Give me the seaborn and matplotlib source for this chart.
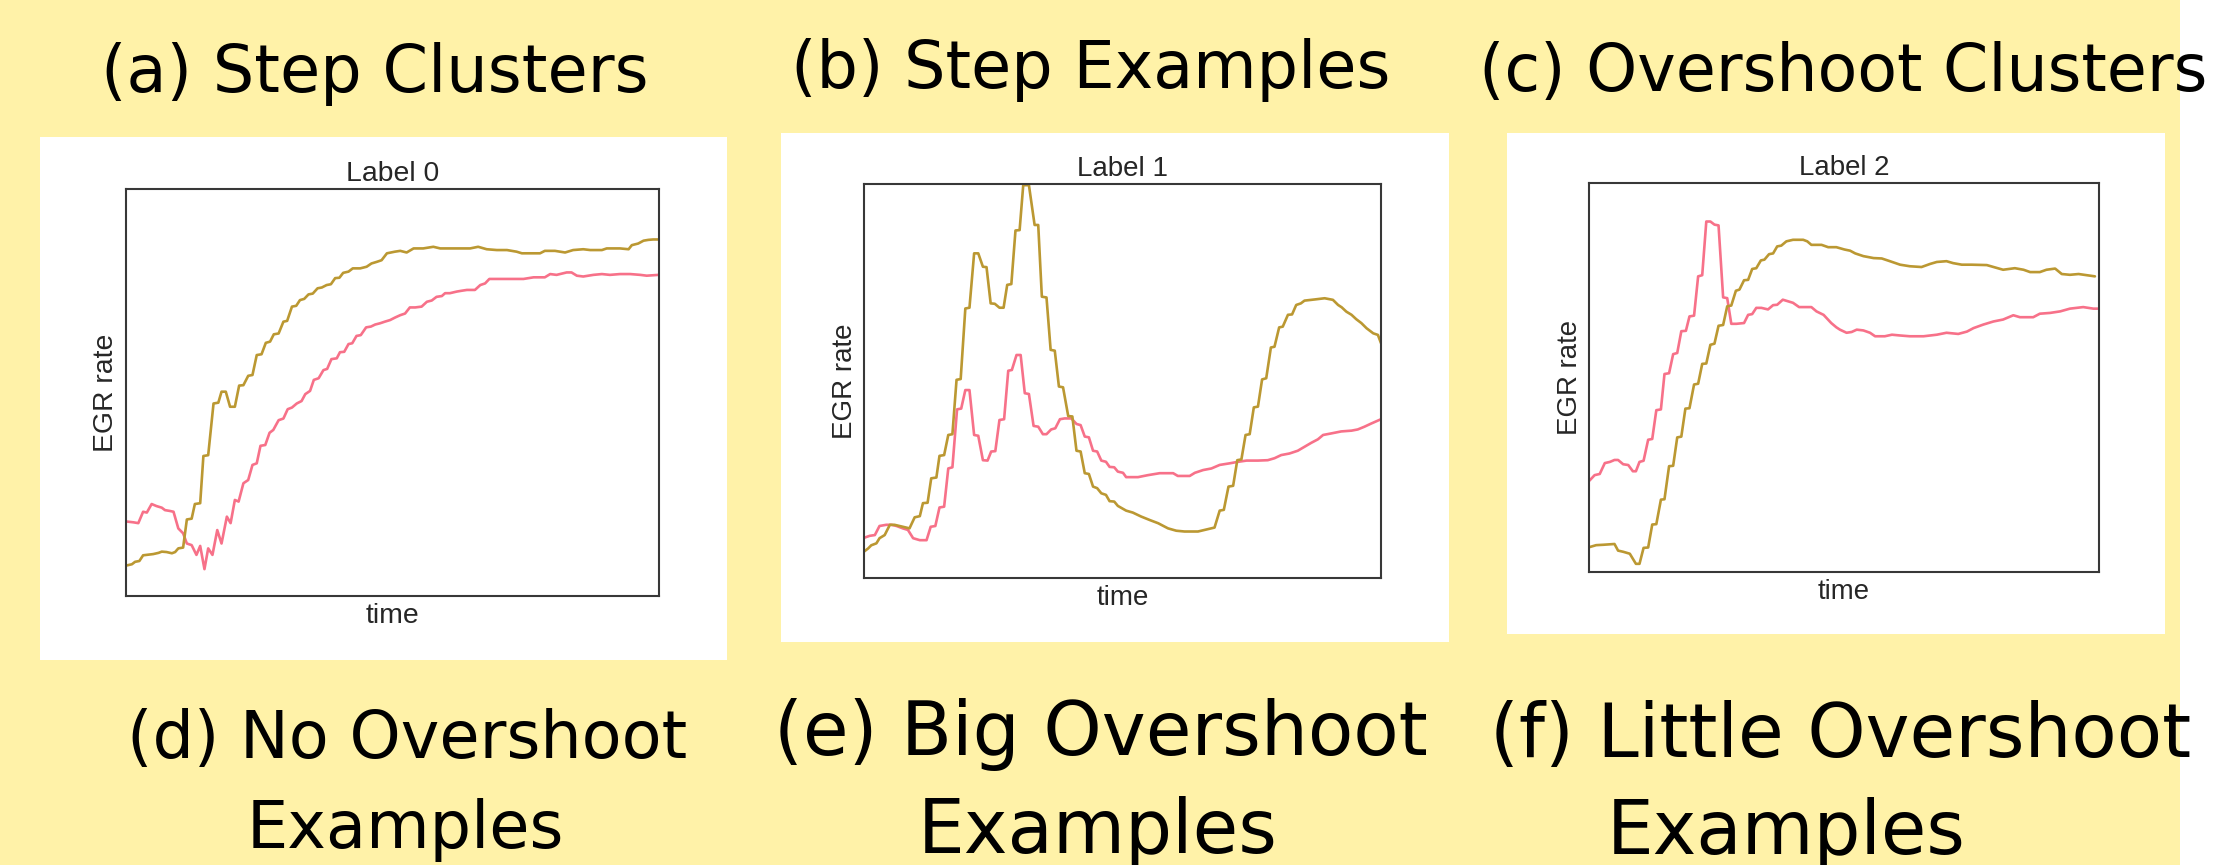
import matplotlib
matplotlib.use("Agg")
import matplotlib.pyplot as plt
import numpy as np
import pandas as pd
import seaborn as sns
from matplotlib.patches import Rectangle

# ---------------- data (time %, EGR rate % of axis range) ----------------
PANEL_TITLES = ["Label 0", "Label 1", "Label 2"]
SERIES_NAMES = ["cluster example 1", "cluster example 2"]

A_PINK = [(0.2,18.3),(1.5,18.1),(2.4,17.9),(3.3,20.7),(4.0,20.5),(4.9,22.6),(5.8,22.1),(6.8,21.7),(7.4,21.1),(8.3,20.9),
          (9.0,20.7),(9.9,16.6),(10.8,15.4),(11.5,12.9),(12.4,12.5),(13.3,10.1),(14.0,12.3),(14.8,6.6),(15.5,11.7),(16.3,10.1),
          (17.2,16.2),(18.0,12.9),(19.0,19.5),(19.7,17.9),(20.5,23.6),(21.2,23.2),(22.1,27.7),(23.0,28.5),(23.8,32.2),(24.6,32.6),
          (25.3,36.9),(26.2,37.1),(27.0,40.1),(27.7,40.8),(28.7,43.2),(29.6,43.6),(30.4,45.9),(31.2,46.3),(32.1,47.3),(33.0,47.9),
          (33.7,49.6),(34.6,50.4),(35.3,53.1),(36.2,53.5),(37.1,55.5),(37.8,55.8),(38.6,58.2),(39.6,58.4),(40.2,59.9),(41.0,60.0),
          (41.8,61.9),(42.5,62.1),(43.3,63.9),(44.1,64.1),(45.1,66.0),(46.0,66.2),(46.8,66.7),(47.7,67.0),(48.6,67.4),(49.6,67.8),
          (50.5,68.4),(51.5,69.0),(52.4,69.4),(53.3,70.9),(54.3,70.9),(55.5,71.1),(56.5,72.3),(57.4,72.6),(58.3,73.5),(59.3,73.7),
          (59.9,74.4),(60.8,74.4),(62.1,74.8),(63.0,75.0),(64.0,75.2),(65.5,75.2),(66.5,76.4),(67.4,76.8),(68.2,77.9),(74.6,77.9),
          (76.5,78.3),(78.6,78.3),(79.6,79.1),(80.8,78.9),(82.7,79.5),(83.6,79.5),(84.6,78.7),(85.8,78.5),(87.7,78.9),(89.3,79.1),
          (90.8,78.9),(92.7,79.1),(94.6,79.1),(96.5,78.9),(97.7,78.7),(99.9,78.9)]
A_OLIVE = [(0.2,7.5),(1.2,7.8),(1.8,8.4),(2.6,8.6),(3.3,10.0),(5.2,10.3),(6.2,10.6),(6.8,10.9),(7.7,10.8),(8.7,10.5),
           (9.3,10.8),(9.9,11.7),(10.8,11.9),(11.5,18.8),(12.4,19.0),(13.0,22.6),(14.0,22.8),(14.6,34.4),(15.5,34.6),(16.5,47.3),
           (17.4,47.5),(18.0,50.2),(18.8,50.2),(19.6,46.5),(20.5,46.5),(21.3,51.7),(22.1,51.8),(23.0,54.1),(23.8,54.3),(24.6,59.2),
           (25.5,59.4),(26.3,62.2),(27.1,62.5),(27.8,64.3),(28.7,64.5),(29.6,67.4),(30.3,67.6),(31.2,71.1),(32.0,71.3),(32.7,72.7),
           (33.5,73.0),(34.3,74.1),(35.1,74.3),(36.0,75.6),(36.8,75.8),(37.7,76.4),(38.5,76.6),(39.3,78.1),(40.1,78.2),(40.8,79.4),
           (41.8,79.7),(42.6,80.5),(44.0,80.5),(45.2,80.9),(46.1,81.7),(47.1,82.1),(48.0,82.5),(49.0,84.2),(50.5,84.6),(51.5,84.8),
           (52.7,84.4),(54.0,85.4),(55.8,85.4),(57.7,85.8),(59.0,85.4),(62.1,85.4),(64.6,85.4),(66.1,85.8),(67.7,85.2),(69.6,85.0),
           (71.5,85.0),(73.3,84.6),(74.3,84.2),(77.7,84.2),(78.6,84.8),(80.5,84.8),(82.4,84.4),(83.9,85.0),(85.8,85.2),(87.1,85.0),
           (89.3,85.0),(90.2,85.4),(92.7,85.4),(94.3,85.2),(94.9,86.2),(96.1,86.6),(97.1,87.3),(98.0,87.5),(98.9,87.6),(99.9,87.6)]

B_PINK = [(0.0,10.2),(1.1,10.7),(2.1,10.9),(3.0,13.2),(4.3,13.5),(5.3,13.5),(6.3,13.2),(7.5,12.6),(8.5,12.2),(9.5,10.1),
          (10.8,9.6),(12.1,9.6),(12.9,13.0),(13.8,13.2),(14.6,17.9),(15.5,18.1),(16.3,27.8),(17.1,28.1),(18.0,42.8),(18.8,43.0),
          (19.6,47.7),(20.4,47.7),(21.3,36.3),(22.1,36.1),(23.0,29.9),(23.9,29.8),(24.6,32.1),(25.4,32.2),(26.2,40.1),(27.1,40.3),
          (27.9,52.6),(28.6,52.8),(29.5,56.6),(30.3,56.6),(31.1,46.9),(31.9,46.7),(32.8,38.6),(33.7,38.4),(34.6,36.5),(35.3,36.5),
          (36.2,37.7),(37.0,38.0),(37.9,40.3),(38.8,40.5),(40.1,40.5),(41.1,39.1),(41.9,38.8),(42.7,35.9),(43.5,35.7),(44.3,32.3),
          (45.1,32.1),(45.9,29.8),(46.8,29.5),(47.5,28.2),(48.4,28.1),(49.1,27.0),(50.1,26.7),(50.7,25.6),(53.0,25.6),(54.9,26.1),
          (57.2,26.6),(59.8,26.6),(60.7,25.9),(63.0,25.9),(64.0,26.7),(65.6,27.4),(67.2,27.8),(68.8,28.7),(70.7,29.1),(72.4,29.5),
          (74.0,29.8),(76.2,29.8),(78.1,29.9),(79.4,30.4),(80.7,31.2),(82.3,31.6),(83.9,32.3),(85.2,33.3),(86.5,34.3),(87.8,35.2),
          (88.8,36.3),(90.4,36.7),(92.3,37.2),(94.3,37.4),(95.5,37.7),(96.8,38.4),(98.1,39.2),(100.0,40.3)]
B_OLIVE = [(0.0,6.7),(0.8,7.5),(1.4,8.3),(2.4,8.8),(3.0,10.1),(4.0,10.9),(5.0,13.5),(5.9,13.5),(7.2,13.1),(8.8,12.6),
           (9.8,15.4),(10.8,15.7),(11.4,19.0),(12.3,19.1),(13.0,25.3),(14.0,25.5),(14.6,31.0),(15.5,31.2),(16.3,36.3),(17.1,36.5),
           (17.9,50.3),(18.7,50.5),(19.6,68.4),(20.4,68.6),(21.3,82.4),(22.1,82.4),(23.0,79.0),(23.7,78.9),(24.5,69.7),(25.3,69.6),
           (26.2,68.6),(27.0,68.6),(27.7,74.4),(28.5,74.6),(29.3,88.2),(30.1,88.3),(30.8,99.7),(31.9,99.7),(33.0,89.6),(33.7,89.6),
           (34.4,71.4),(35.3,71.2),(36.1,57.9),(36.9,57.7),(37.7,48.6),(38.5,48.4),(39.5,41.1),(40.3,41.0),(41.1,32.3),(41.9,32.1),
           (42.7,26.6),(43.5,26.4),(44.3,23.2),(45.1,22.8),(45.9,21.5),(46.8,21.1),(47.5,19.5),(48.4,19.4),(49.1,18.3),(50.7,17.1),
           (52.0,16.6),(53.6,15.6),(55.3,14.7),(56.9,13.9),(58.8,12.6),(60.4,12.0),(62.0,11.8),(64.6,11.8),(66.2,12.3),(67.8,12.8),
           (68.8,17.1),(69.6,17.3),(70.5,23.2),(71.4,23.4),(72.2,29.9),(73.0,30.1),(73.8,36.3),(74.6,36.5),(75.4,43.3),(76.2,43.5),
           (77.0,50.4),(77.8,50.7),(78.7,58.5),(79.4,58.7),(80.3,63.6),(81.0,63.8),(82.0,66.8),(82.8,66.9),(83.6,69.3),(84.5,69.7),
           (85.2,70.4),(87.2,70.7),(89.1,71.0),(90.7,70.6),(91.7,69.3),(92.4,68.7),(93.3,67.6),(94.3,66.8),(95.2,65.7),(96.2,64.7),
           (97.2,63.4),(98.5,62.1),(99.4,61.7),(100.0,59.6)]

C_PINK = [(0.1,23.5),(1.1,24.9),(2.1,25.2),(3.1,28.0),(4.1,28.3),(5.0,28.8),(5.7,28.8),(6.7,27.7),(7.7,27.5),(8.6,25.9),
          (9.2,25.9),(9.9,28.3),(10.7,28.6),(11.6,34.0),(12.4,34.2),(13.2,41.6),(14.1,41.8),(14.8,50.9),(15.7,51.1),(16.5,56.0),
          (17.3,56.3),(18.1,61.9),(19.0,62.0),(19.7,65.7),(20.6,65.9),(21.4,76.0),(22.2,76.3),(23.0,90.1),(23.8,90.1),(24.6,89.3),
          (25.4,89.1),(26.3,70.6),(27.1,70.4),(27.9,63.8),(28.9,63.8),(30.4,64.0),(31.2,66.1),(32.0,66.3),(32.8,67.9),(33.8,67.9),
          (35.1,67.5),(36.1,68.6),(36.9,68.7),(38.0,70.0),(39.0,69.6),(40.0,69.2),(41.2,68.1),(43.6,68.1),(44.6,67.0),(46.0,66.1),
          (47.5,64.0),(48.5,62.9),(49.2,62.3),(50.5,61.5),(51.5,61.7),(52.5,62.3),(53.8,62.1),(55.1,61.5),(56.1,60.6),(58.0,60.6),
          (59.4,61.0),(61.0,60.8),(62.9,60.6),(65.6,60.6),(68.2,61.0),(70.1,61.5),(72.4,61.2),(74.1,61.8),(75.4,62.7),(77.3,63.6),
          (79.3,64.4),(81.2,64.9),(83.2,66.0),(84.5,65.5),(87.1,65.5),(88.4,66.4),(90.4,66.6),(92.4,67.0),(94.3,67.7),(96.9,68.1),
          (98.9,67.7),(99.9,67.7)]
C_OLIVE = [(0.1,6.4),(1.4,6.9),(2.8,7.0),(5.0,7.2),(5.7,5.5),(6.7,5.2),(8.0,4.7),(9.2,2.1),(9.9,2.1),(10.7,6.2),
           (11.6,6.3),(12.4,12.2),(13.2,12.3),(14.1,18.6),(14.8,18.7),(15.7,27.2),(16.5,27.3),(17.3,34.6),(18.1,34.8),(18.9,42.0),
           (19.7,42.1),(20.6,48.2),(21.4,48.4),(22.2,53.5),(23.0,53.6),(23.8,58.4),(24.6,58.7),(25.4,63.3),(26.3,63.5),(27.1,68.3),
           (27.9,68.5),(28.8,72.3),(29.5,72.6),(30.4,75.0),(31.2,75.1),(32.0,77.9),(32.8,78.1),(33.7,80.1),(34.4,80.3),(35.3,81.7),
           (36.1,81.9),(36.9,83.7),(37.7,83.9),(38.7,85.0),(40.0,85.4),(42.0,85.4),(42.8,85.0),(43.6,84.1),(45.6,84.1),(46.9,83.5),
           (48.5,83.5),(50.1,82.9),(51.2,82.6),(52.2,81.9),(53.8,81.2),(55.8,80.7),(57.4,80.6),(59.0,79.9),(61.0,79.0),(62.9,78.6),
           (65.2,78.4),(66.9,79.2),(68.2,79.7),(70.1,79.9),(71.4,79.4),(73.1,79.0),(75.0,79.0),(78.0,78.9),(79.6,78.3),(81.2,77.7),
           (83.5,78.1),(85.2,77.7),(86.5,77.1),(88.4,77.1),(89.7,77.7),(91.4,78.0),(92.7,76.6),(94.3,76.4),(96.0,76.6),(97.6,76.3),
           (99.2,76.0)]

PANEL_SERIES = [(A_PINK, A_OLIVE), (B_PINK, B_OLIVE), (C_PINK, C_OLIVE)]

TOP_LABELS = ["(a) Step Clusters", "(b) Step Examples", "(c) Overshoot Clusters"]
BOTTOM_LABELS = [("(d) No Overshoot", "Examples"),
                 ("(e) Big Overshoot", "Examples"),
                 ("(f) Little Overshoot", "Examples")]

# ---------------- layout (pixels of the 2214x865 canvas) ----------------
W, H = 2214, 865
YELLOW = "#fff2a8"
PANEL_BOXES = [(39.5, 137, 727, 660), (781, 133, 1449, 642), (1507, 133, 2165, 634)]
AXES_BOXES = [(125.5, 189, 659, 596), (864, 184, 1381, 578), (1589, 183, 2099, 572)]
INNER_FS = [20.4, 20.0, 19.9]

# (left x, baseline y, target width)
TOP_POS = [(101, 92, 548), (791, 88, 600), (1479, 91, 729)]
BOT_POS = [[(127, 758, 561), (247, 848, 318)],
           [(774, 755, 655), (918, 853, 360)],
           [(1490, 757, 702), (1607, 854, 359)]]

sns.set_theme(style="white")
plt.rcParams["font.family"] = ["Liberation Sans", "DejaVu Sans"]

fig = plt.figure(figsize=(W / 100, H / 100), dpi=100, facecolor="white")
fig.patches.append(Rectangle((0, 0), 2180 / W, 1, transform=fig.transFigure,
                             facecolor=YELLOW, edgecolor="none", zorder=-3))
for (x0, y0, x1, y1) in PANEL_BOXES:
    fig.patches.append(Rectangle((x0 / W, 1 - y1 / H), (x1 - x0) / W, (y1 - y0) / H,
                                 transform=fig.transFigure, facecolor="white",
                                 edgecolor="none", zorder=-2))

palette = sns.color_palette("husl", 6)[:2]

for i, ((x0, y0, x1, y1), (pink, olive)) in enumerate(zip(AXES_BOXES, PANEL_SERIES)):
    ax = fig.add_axes([x0 / W, 1 - y1 / H, (x1 - x0) / W, (y1 - y0) / H])
    ax.set_zorder(2)
    ax.set_facecolor("white")
    rows = []
    for name, pts in zip(SERIES_NAMES, (pink, olive)):
        for t, r in pts:
            rows.append({"time": t, "EGR rate": r, "series": name})
    df = pd.DataFrame(rows)
    sns.lineplot(data=df, x="time", y="EGR rate", hue="series", hue_order=SERIES_NAMES,
                 palette=palette, estimator=None, errorbar=None, legend=False,
                 linewidth=1.9, ax=ax)
    ax.set_xlim(0, 100)
    ax.set_ylim(0, 100)
    ax.set_xticks([])
    ax.set_yticks([])
    fs = INNER_FS[i]
    ax.set_title(PANEL_TITLES[i], fontsize=fs, color=".15", pad=6)
    ax.set_xlabel("time", fontsize=fs, color=".15", labelpad=5)
    ax.set_ylabel("EGR rate", fontsize=fs, color=".15", labelpad=4.5)
    for sp in ax.spines.values():
        sp.set_color(".22")
        sp.set_linewidth(1.5)
        sp.set_visible(True)

renderer = fig.canvas.get_renderer()


def fit_text(x, y, s, target_w):
    t = fig.text(x / W, 1 - y / H, s, fontsize=50, ha="left", va="baseline",
                 color="black", family="DejaVu Sans", zorder=5)
    w = t.get_window_extent(renderer).width
    t.set_fontsize(50 * target_w / w)
    return t


for (x, y, tw), s in zip(TOP_POS, TOP_LABELS):
    fit_text(x, y, s, tw)
for pos, lines in zip(BOT_POS, BOTTOM_LABELS):
    for (x, y, tw), s in zip(pos, lines):
        fit_text(x, y, s, tw)

fig.savefig("out.png", dpi=100, facecolor="white")
